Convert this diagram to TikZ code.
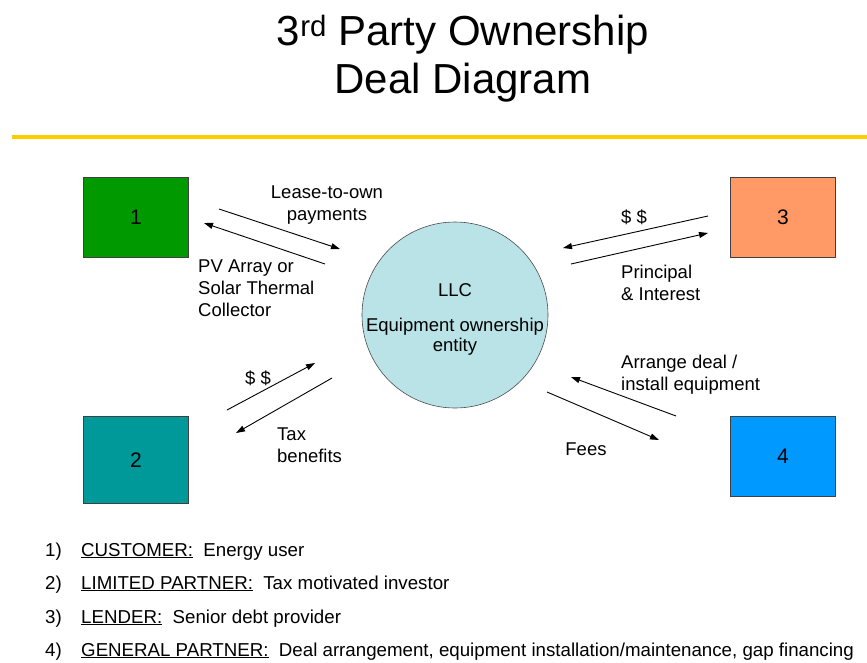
\documentclass[tikz,border=0pt]{standalone}
\usepackage{fontspec}
\setmainfont{Liberation Sans}
\usetikzlibrary{arrows.meta}
\definecolor{custgreen}{HTML}{009900}
\definecolor{lpteal}{HTML}{009999}
\definecolor{lendorange}{HTML}{FF9966}
\definecolor{gpblue}{HTML}{0099FF}
\definecolor{llcfill}{HTML}{B9E3E6}
\definecolor{rulegold}{HTML}{FFCC00}
\tikzset{
  party/.style={draw=black!75, line width=0.8pt, minimum width=105pt, minimum height=80pt,
    font=\fontsize{21}{24}\selectfont},
  flow/.style={-{Triangle[length=9pt,width=6pt]}, line width=0.9pt},
  lbl/.style={font=\fontsize{18.5}{22}\selectfont, inner sep=0pt},
}
\begin{document}
\begin{tikzpicture}[x=1pt,y=-1pt]
  \useasboundingbox (0,0) rectangle (867,662);
  \node[font=\fontsize{42}{48}\selectfont, align=center] (title) at (463,59)
    {3\textsuperscript{rd} Party Ownership\\Deal Diagram};
  \draw[rulegold, line width=4pt] (12,137) -- (867,137);

  \draw
    (136,217) node[party, fill=custgreen] (1){1}
    (136,460) node[party, fill=lpteal, minimum height=87pt] (2){2}
    (783,217) node[party, fill=lendorange] (3){3}
    (783,456) node[party, fill=gpblue] (4){4}
    (455,315) node[circle, draw=black!70, line width=0.6pt, fill=llcfill, minimum size=186pt] (llc){};
  \node[lbl, align=center, font=\fontsize{18.5}{20}\selectfont] (llctext) at (455,319)
    {LLC\\[15pt]Equipment ownership\\entity};

  \coordinate (a1s) at (219,209);  \coordinate (a1e) at (340,249);
  \coordinate (a2s) at (325,264);  \coordinate (a2e) at (204,223);
  \coordinate (a3s) at (708,216);  \coordinate (a3e) at (563,248);
  \coordinate (a4s) at (571,264);  \coordinate (a4e) at (708,233);
  \coordinate (a5s) at (227,410);  \coordinate (a5e) at (315,363);
  \coordinate (a6s) at (332,378);  \coordinate (a6e) at (236,433);
  \coordinate (a7s) at (676,416);  \coordinate (a7e) at (571,377);
  \coordinate (a8s) at (547,392);  \coordinate (a8e) at (659,440);
  \begin{scope}[flow]
    \draw (a1s) to (a1e);
    \draw (a2s) to (a2e);
    \draw (a3s) to (a3e);
    \draw (a4s) to (a4e);
    \draw (a5s) to (a5e);
    \draw (a6s) to (a6e);
    \draw (a7s) to (a7e);
    \draw (a8s) to (a8e);
  \end{scope}

  \node[lbl, align=center] (lease) at (327,205) {Lease-to-own\\payments};
  \node[lbl, align=left, anchor=north west] (pv) at (198,260) {PV Array or\\Solar Thermal\\Collector};
  \node[lbl] (pay3) at (634,217) {\$ \$};
  \node[lbl, align=left, anchor=north west] (pi) at (621,265) {Principal\\\& Interest};
  \node[lbl] (pay2) at (258,378) {\$ \$};
  \node[lbl, align=left, anchor=north west] (tax) at (277,428) {Tax\\benefits};
  \node[lbl, align=left, anchor=north west] (deal) at (621,355) {Arrange deal /\\install equipment};
  \node[lbl] (fees) at (586,449) {Fees};

  \begin{scope}[lbl, font=\fontsize{18.7}{22}\selectfont, anchor=base west]
    \node (n1) at (45,556) {1)};
    \node (t1) at (81,556) {\underline{CUSTOMER:}\ \ Energy user};
    \node (n2) at (45,589) {2)};
    \node (t2) at (81,589) {\underline{LIMITED PARTNER:}\ \ Tax motivated investor};
    \node (n3) at (45,623) {3)};
    \node (t3) at (81,623) {\underline{LENDER:}\ \ Senior debt provider};
    \node (n4) at (45,656) {4)};
    \node (t4) at (81,656) {\underline{GENERAL PARTNER:}\ \ Deal arrangement, equipment installation/maintenance, gap financing};
  \end{scope}
\end{tikzpicture}
\end{document}
